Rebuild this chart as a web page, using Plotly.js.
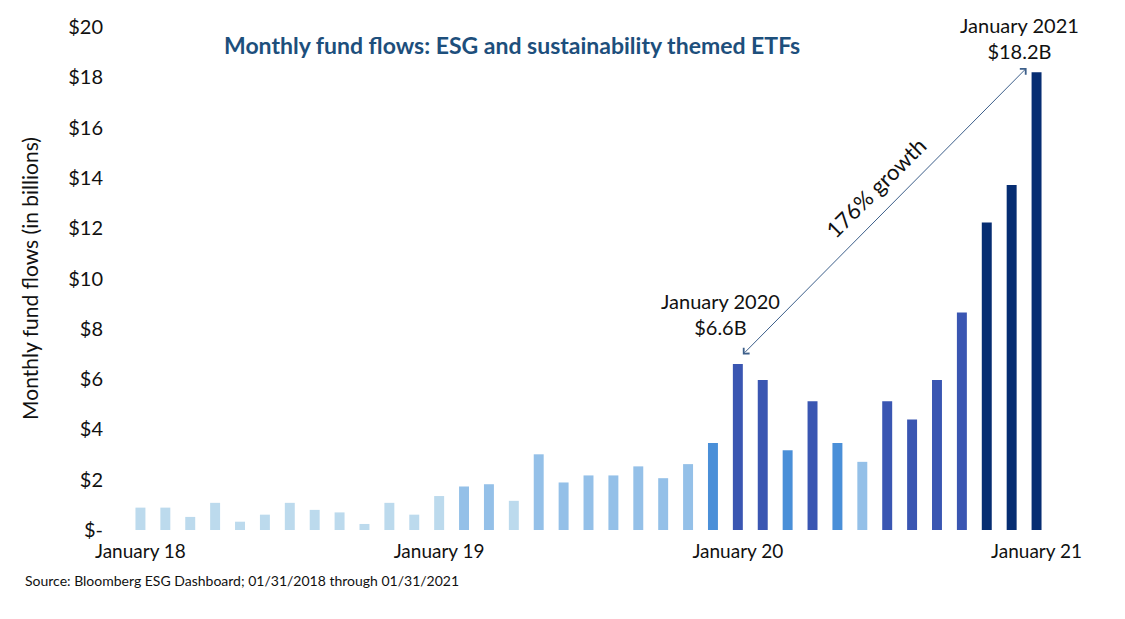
<!DOCTYPE html>
<html>
<head>
<meta charset="utf-8">
<script src="https://cdn.plot.ly/plotly-3.0.1.min.js"></script>
<style>html,body{margin:0;padding:0;background:#fff;}#chart{width:1125px;height:619px;}</style>
</head>
<body>
<div id="chart"></div>
<script>
const months = [
  "2018-01","2018-02","2018-03","2018-04","2018-05","2018-06","2018-07","2018-08","2018-09","2018-10","2018-11","2018-12",
  "2019-01","2019-02","2019-03","2019-04","2019-05","2019-06","2019-07","2019-08","2019-09","2019-10","2019-11","2019-12",
  "2020-01","2020-02","2020-03","2020-04","2020-05","2020-06","2020-07","2020-08","2020-09","2020-10","2020-11","2020-12",
  "2021-01"
];
const flows = [
  0.89, 0.89, 0.52, 1.08, 0.33, 0.61, 1.08, 0.80, 0.70, 0.24, 1.08, 0.61,
  1.35, 1.73, 1.82, 1.16, 3.01, 1.89, 2.17, 2.17, 2.53, 2.06, 2.62, 3.46,
  6.6, 5.96, 3.17, 5.12, 3.46, 2.71, 5.12, 4.39, 5.96, 8.65, 12.23, 13.72,
  18.2
];
// colour group per bar: 0 very light, 1 light, 2 mid, 3 dark, 4 navy
const shade = [
  0,0,0,0,0,0,0,0,0,0,0,0,
  0,1,1,0,1,1,1,1,1,1,1,2,
  3,3,2,3,2,1,3,3,3,3,4,4,
  4
];
const palette = ["#bcdaed", "#94c0e8", "#4a8fd8", "#3a56b2", "#062d72"];
const tickVals = ["2018-01","2019-01","2020-01","2021-01"];
const tickText = ["January 18","January 19","January 20","January 21"];
const yTickVals = [0,2,4,6,8,10,12,14,16,18,20];
const yTickText = ["$-","$2","$4","$6","$8","$10","$12","$14","$16","$18","$20"];

const FONT = "Lato, 'Open Sans', sans-serif";

const trace = {
  type: "bar",
  x: months,
  y: flows,
  marker: { color: shade.map(s => palette[s]) },
  hoverinfo: "x+y"
};

const layout = {
  width: 1125, height: 619,
  margin: { l: 127.5, r: 76, t: 27, b: 89 },
  paper_bgcolor: "#fff", plot_bgcolor: "#fff",
  bargap: 0.6,
  showlegend: false,
  font: { family: FONT, color: "#111", size: 19 },
  xaxis: {
    type: "category",
    tickvals: tickVals, ticktext: tickText,
    showgrid: false, zeroline: false, showline: false, ticks: "",
    ticklabelstandoff: 8,
    tickfont: { size: 19, color: "#111" },
    range: [-0.5, 36.5]
  },
  yaxis: {
    range: [0, 20],
    tickvals: yTickVals, ticktext: yTickText,
    showgrid: false, zeroline: false, showline: false, ticks: "",
    ticklabelstandoff: 24,
    tickfont: { size: 20, color: "#111" },
    title: { text: "Monthly fund flows (in billions)", font: { size: 21, color: "#111" }, standoff: 23 }
  },
  annotations: [
    {
      xref: "paper", yref: "paper", x: 0.417, y: 1.0, yshift: -18,
      text: "<b>Monthly fund flows: ESG and sustainability themed ETFs</b>",
      showarrow: false, xanchor: "center", yanchor: "middle",
      font: { size: 23, color: "#1d4f7c", family: FONT }
    },
    {
      xref: "x", yref: "y", x: 35.6, y: 18.37,
      axref: "x", ayref: "y", ax: 24.14, ay: 6.92,
      showarrow: true, arrowside: "end+start", arrowhead: 4, startarrowhead: 4,
      arrowsize: 1.6, startarrowsize: 1.6, arrowwidth: 1, arrowcolor: "#3d5f8a",
      text: ""
    },
    {
      xref: "x", yref: "y", x: 29.55, y: 13.6,
      text: "176% growth", showarrow: false, textangle: -45,
      font: { size: 22, color: "#111", family: FONT }
    },
    {
      xref: "x", yref: "y", x: 23.3, y: 8.6,
      text: "January 2020<br>$6.6B", showarrow: false,
      xanchor: "center", yanchor: "middle",
      font: { size: 20, color: "#111", family: FONT }
    },
    {
      xref: "x", yref: "y", x: 35.3, y: 19.56,
      text: "January 2021<br>$18.2B", showarrow: false,
      xanchor: "center", yanchor: "middle",
      font: { size: 20, color: "#111", family: FONT }
    },
    {
      xref: "paper", yref: "paper", x: -0.1145, y: -0.101,
      text: "Source: Bloomberg ESG Dashboard; 01/31/2018 through 01/31/2021",
      showarrow: false, xanchor: "left", yanchor: "middle",
      font: { size: 14, color: "#111", family: FONT }
    }
  ]
};

Plotly.newPlot("chart", [trace], layout, { displayModeBar: false, staticPlot: true });
</script>
</body>
</html>
